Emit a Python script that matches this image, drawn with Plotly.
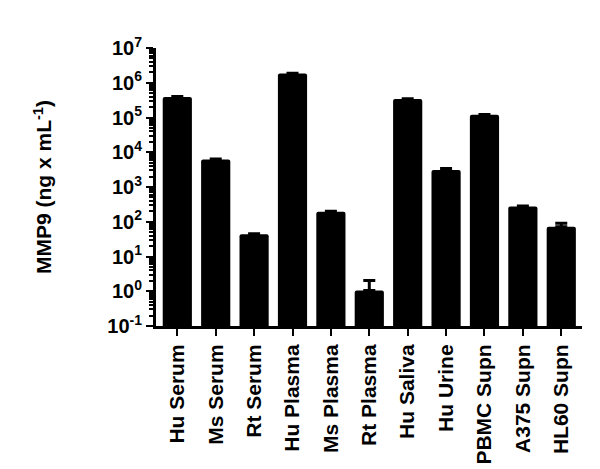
import plotly.graph_objects as go

# samples and MMP9 concentration (ng x mL^-1)
samples = ["Hu Serum", "Ms Serum", "Rt Serum", "Hu Plasma", "Ms Plasma", "Rt Plasma",
           "Hu Saliva", "Hu Urine", "PBMC Supn", "A375 Supn", "HL60 Supn"]
mmp9 = [3.9e5, 6.2e3, 44, 1.85e6, 195, 1.05, 3.4e5, 3.1e3, 1.2e5, 275, 72]
mmp9_err = [1.0e4, 2.0e2, 1, 4.0e4, 5, 1.0, 8.0e3, 3.0e2, 3.0e3, 8, 18]

tick_powers = [-1, 0, 1, 2, 3, 4, 5, 6, 7]

FONT = "Liberation Sans, Arial, sans-serif"

fig = go.Figure()
fig.add_trace(go.Bar(
    x=samples, y=mmp9,
    marker=dict(color="black", line=dict(width=0), cornerradius=2),
    width=0.76,
    error_y=dict(type="data", array=mmp9_err, arrayminus=[0] * len(mmp9_err),
                 symmetric=False, color="black", thickness=3, width=6),
))

fig.update_layout(
    width=600, height=469,
    margin=dict(l=148, r=26, t=40, b=149),
    plot_bgcolor="white", paper_bgcolor="white",
    showlegend=False,
    font=dict(family=FONT, color="black"),
)

fig.update_xaxes(
    range=[-0.555, 10.54],
    showline=True, linecolor="black", linewidth=3,
    ticks="outside", ticklen=7, tickwidth=2, tickcolor="black",
    tickangle=-90,
    tickfont=dict(family=FONT, size=21, color="black"),
    tickvals=samples, ticktext=[f"<b>{s}</b>" for s in samples],
    showgrid=False, zeroline=False,
)

fig.update_yaxes(
    type="log", range=[-1, 7],
    showline=True, linecolor="black", linewidth=3,
    ticks="outside", ticklen=7, tickwidth=2, tickcolor="black",
    tickvals=[10 ** p for p in tick_powers],
    ticktext=[f"<b>10<sup>{p}</sup></b>" for p in tick_powers],
    tickfont=dict(family=FONT, size=20, color="black"),
    minor=dict(ticks="outside", ticklen=4, tickwidth=2, tickcolor="black", dtick="D1", showgrid=False),
    showgrid=False, zeroline=False,
    title=dict(text="<b>MMP9 (ng x mL<sup>-1</sup>)</b>", font=dict(family=FONT, size=21), standoff=50),
)

fig.write_html("out.html")
